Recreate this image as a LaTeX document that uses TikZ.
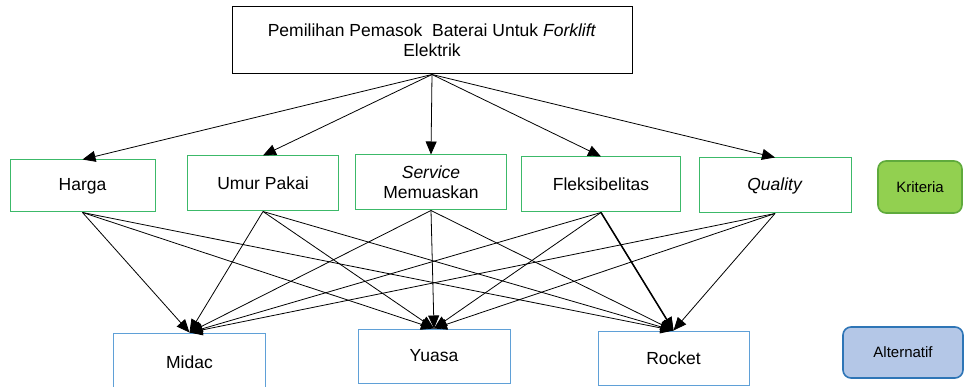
\documentclass[tikz,border=0pt]{standalone}
\usepackage{fontspec}
\setmainfont{Liberation Sans}
\usetikzlibrary{arrows.meta}
\definecolor{critgreen}{RGB}{60,185,105}
\definecolor{altblue}{RGB}{95,160,215}
\definecolor{krifill}{RGB}{146,208,80}
\definecolor{kriedge}{RGB}{95,170,60}
\definecolor{altfill}{RGB}{180,199,231}
\definecolor{altedge}{RGB}{46,117,182}
\begin{document}
\begin{tikzpicture}[x=1pt,y=-1pt,
  base/.style={draw, line width=1pt, align=center, inner sep=0pt, font=\fontsize{17.5}{20}\selectfont},
  goal/.style={base, draw=black},
  crit/.style={base, draw=critgreen},
  alt/.style={base, draw=altblue},
  legend/.style={draw, line width=1.6pt, rounded corners=8pt, inner sep=0pt, font=\fontsize{15}{18}\selectfont},
  link/.style={line width=0.8pt, -{Triangle[length=13pt,width=11pt]}}]
\useasboundingbox (0,0) rectangle (966,387);
\node[goal, minimum width=400, minimum height=67] (top) at (432,40.5) {Pemilihan Pemasok~ Baterai Untuk \textit{Forklift}\\Elektrik};
\node[crit, minimum width=145, minimum height=52] (harga) at (82.5,186) {Harga};
\node[crit, minimum width=151, minimum height=55] (umur) at (263,183.5) {Umur Pakai};
\node[crit, minimum width=151, minimum height=55] (serv) at (431,182.5) {\textit{Service}\\Memuaskan};
\node[crit, minimum width=159, minimum height=55] (fleks) at (601,184.5) {Fleksibelitas};
\node[crit, minimum width=152, minimum height=55] (qual) at (775,185.5) {\textit{Quality}};
\node[legend, draw=kriedge, fill=krifill, minimum width=84, minimum height=52] (kri) at (920,187) {Kriteria};
\node[alt, minimum width=152, minimum height=58] (midac) at (189.5,362) {Midac};
\node[alt, minimum width=152, minimum height=54] (yuasa) at (434,356) {Yuasa};
\node[alt, minimum width=151, minimum height=54] (rocket) at (673.5,358) {Rocket};
\node[legend, draw=altedge, fill=altfill, minimum width=120, minimum height=51] (alti) at (903,352.5) {Alternatif};
\foreach \c in {harga,umur,serv,fleks,qual}
  \draw[link] (top.south) -- (\c.north);
\foreach \c in {harga,umur,serv,fleks,qual}
  \foreach \a in {midac,yuasa,rocket}
    \draw[link] (\c.south) -- (\a.north);
\draw[link, line width=1.5pt] (fleks.south) -- (rocket.north);
\end{tikzpicture}
\end{document}
